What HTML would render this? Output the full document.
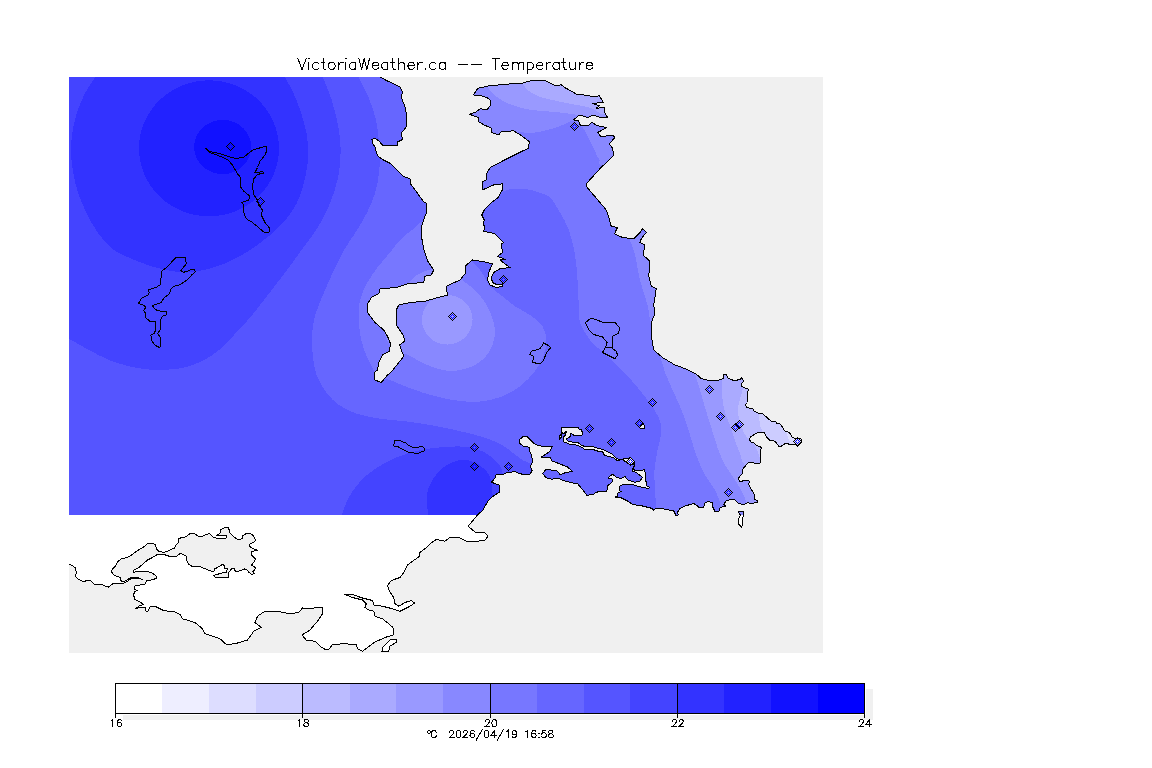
<!DOCTYPE html>
<html><head><meta charset="utf-8"><title>VictoriaWeather.ca -- Temperature</title>
<style>html,body{margin:0;padding:0;background:#fff}body{width:1152px;height:768px;overflow:hidden}svg{display:block}text{font-family:"Liberation Sans",sans-serif}</style></head><body>
<svg width="1152" height="768" viewBox="0 0 1152 768">
<rect width="1152" height="768" fill="#fff"/>
<g shape-rendering="crispEdges">
<rect x="69" y="77" width="754" height="576" fill="#f0f0f0"/>
<clipPath id="box"><rect x="69" y="77" width="754" height="438"/></clipPath>
<g clip-path="url(#box)">
<rect x="69" y="77" width="754" height="438" fill="#6666ff"/>
<path fill="#5555ff" d="M358.3 77C359.97 80.28 365.35 89.53 368.3 96.7C371.25 103.87 374.17 111.67 376 120C377.83 128.33 378.75 138.37 379.3 146.7C379.85 155.03 380.02 162.23 379.3 170C378.58 177.77 377.1 186.08 375 193.3C372.9 200.52 370.03 206.63 366.7 213.3C363.37 219.97 358.78 227.18 355 233.3C351.22 239.42 347.5 243.88 344 250C340.5 256.12 337.33 262.92 334 270C330.67 277.08 327.12 285 324 292.5C320.88 300 317.25 307.92 315.25 315C313.25 322.08 312.42 328.33 312 335C311.58 341.67 312 348.33 312.75 355C313.5 361.67 314.21 368.75 316.5 375C318.79 381.25 322.75 387.5 326.5 392.5C330.25 397.5 333.92 401.46 339 405C344.08 408.54 350.17 411.46 357 413.75C363.83 416.04 372 417.5 380 418.75C388 420 396.67 420.21 405 421.25C413.33 422.29 421.67 423.54 430 425C438.33 426.46 446.67 428.12 455 430C463.33 431.88 472.5 433.96 480 436.25C487.5 438.54 494.58 441.04 500 443.75C505.42 446.46 508.75 449.79 512.5 452.5C516.25 455.21 519.58 458.12 522.5 460C525.42 461.88 526.25 461.25 530 463.75C533.75 466.25 542.5 473.12 545 475L545 520L60 520L60 70L358 70Z"/>
<path fill="#4444ff" d="M322.7 77C324.2 80.83 329.1 91.72 331.7 100C334.3 108.28 336.8 118.37 338.3 126.7C339.8 135.03 340.7 141.67 340.7 150C340.7 158.33 340.08 167.82 338.3 176.7C336.52 185.58 333.33 194.97 330 203.3C326.67 211.63 323.05 218.92 318.3 226.7C313.55 234.48 306.38 243.2 301.5 250C296.62 256.8 293.17 261.88 289 267.5C284.83 273.12 280.67 278.33 276.5 283.75C272.33 289.17 268.58 294.17 264 300C259.42 305.83 254 312.92 249 318.75C244 324.58 239 329.79 234 335C229 340.21 224 345.83 219 350C214 354.17 209.42 357.17 204 360C198.58 362.83 192.33 365.42 186.5 367C180.67 368.58 175.25 369.08 169 369.5C162.75 369.92 155.67 370.04 149 369.5C142.33 368.96 135.67 367.83 129 366.25C122.33 364.67 115.67 362.71 109 360C102.33 357.29 95.67 353.54 89 350C82.33 346.46 72.33 340.62 69 338.75L60 333L60 70L322.7 70Z"/>
<path fill="#4444ff" d="M341.7 515C343.08 511.72 345.83 501.92 350 495.3C354.17 488.68 359.48 481.4 366.7 475.3C373.92 469.2 384.42 462.87 393.3 458.7C402.18 454.53 411.55 452.25 420 450.3C428.45 448.35 436.08 447.55 444 447C451.92 446.45 460.67 446.08 467.5 447C474.33 447.92 480 449.92 485 452.5C490 455.08 494.58 459.17 497.5 462.5C500.42 465.83 501.58 467.92 502.5 472.5C503.42 477.08 502.92 487.08 503 490L498 520L341.7 520Z"/>
<path fill="#3333ff" d="M95 77.3C93.33 79.97 88.05 87.3 85 93.3C81.95 99.3 78.82 106.63 76.7 113.3C74.58 119.97 73.25 126.63 72.3 133.3C71.35 139.97 70.83 146.63 71 153.3C71.17 159.97 72.08 166.63 73.3 173.3C74.52 179.97 76.07 186.63 78.3 193.3C80.53 199.97 83.37 206.63 86.7 213.3C90.03 219.97 93.75 227.18 98.3 233.3C102.85 239.42 108.47 245.76 114 250C119.53 254.24 125.25 256.04 131.5 258.75C137.75 261.46 145.25 264.29 151.5 266.25C157.75 268.21 163.17 269.46 169 270.5C174.83 271.54 180.67 272.58 186.5 272.5C192.33 272.42 197.75 271.46 204 270C210.25 268.54 217.33 266.46 224 263.75C230.67 261.04 238 257.21 244 253.75C250 250.29 254 247.62 260 243C266 238.38 273.88 232.62 280 226C286.12 219.38 292.37 212.08 296.7 203.3C301.03 194.52 304.07 182.73 306 173.3C307.93 163.87 308.75 155.58 308.3 146.7C307.85 137.82 305.52 128.33 303.3 120C301.08 111.67 298.05 103.87 295 96.7C291.95 89.53 286.67 80.28 285 77L285 70L95 70Z"/>
<path fill="#3333ff" d="M428.3 515C428.03 511.72 425.87 501.35 426.7 495.3C427.53 489.25 430.42 483.42 433.3 478.7C436.18 473.98 439.55 470.12 444 467C448.45 463.88 454.83 460.75 460 460C465.17 459.25 470.42 460.42 475 462.5C479.58 464.58 484.79 469.17 487.5 472.5C490.21 475.83 490.33 477.92 491.25 482.5C492.17 487.08 492.71 497.08 493 500L490 520L428.3 520Z"/>
<ellipse fill="#2222ff" cx="209" cy="148.3" rx="70" ry="68"/>
<ellipse fill="#1111ff" cx="222.7" cy="147" rx="28.6" ry="27.1"/>
<path fill="#7777ff" d="M425 221C420.33 220.17 416.17 226.83 412 230C407.83 233.17 403.67 236.25 400 240C396.33 243.75 393.75 247.92 390 252.5C386.25 257.08 381.25 262.5 377.5 267.5C373.75 272.5 370.42 277.08 367.5 282.5C364.58 287.92 361.46 293.75 360 300C358.54 306.25 358.54 313.33 358.75 320C358.96 326.67 360 334.17 361.25 340C362.5 345.83 364.38 350.42 366.25 355C368.12 359.58 370.71 364 372.5 367.5C374.29 371 374.08 373.92 377 376C379.92 378.08 385.33 378.29 390 380C394.67 381.71 399.58 384.17 405 386.25C410.42 388.33 416.25 390.54 422.5 392.5C428.75 394.46 435.83 396.54 442.5 398C449.17 399.46 455.83 400.71 462.5 401.25C469.17 401.79 475.83 402.08 482.5 401.25C489.17 400.42 496.25 398.75 502.5 396.25C508.75 393.75 514.58 390.42 520 386.25C525.42 382.08 531.04 376.46 535 371.25C538.96 366.04 541.88 360.21 543.75 355C545.62 349.79 546.46 344.79 546.25 340C546.04 335.21 545.21 330.42 542.5 326.25C539.79 322.08 534.58 318.33 530 315C525.42 311.67 519.58 309.38 515 306.25C510.42 303.12 506.67 299.58 502.5 296.25C498.33 292.92 493.75 290.62 490 286.25C486.25 281.88 485 276.04 480 270C475 263.96 466.67 255.83 460 250C453.33 244.17 445.83 239.83 440 235C434.17 230.17 429.67 221.83 425 221Z"/>
<path fill="#7777ff" d="M450 195C455 195 472.05 195.28 480 195C487.95 194.72 492.53 194.27 497.7 193.3C502.87 192.33 506.28 189.88 511 189.2C515.72 188.52 521.28 188.65 526 189.2C530.72 189.75 535.3 191.12 539.3 192.5C543.3 193.88 546.55 194.17 550 197.5C553.45 200.83 556.88 207.08 560 212.5C563.12 217.92 566.25 222.92 568.75 230C571.25 237.08 573.54 246.67 575 255C576.46 263.33 576.88 271.67 577.5 280C578.12 288.33 578.33 297.92 578.75 305C579.17 312.08 578.12 316.67 580 322.5C581.88 328.33 585.5 334.42 590 340C594.5 345.58 600.33 349.54 607 356C613.67 362.46 623.25 371.42 630 378.75C636.75 386.08 642.71 393.54 647.5 400C652.29 406.46 656.46 412.08 658.75 417.5C661.04 422.92 661.46 427.08 661.25 432.5C661.04 437.92 658.62 443.75 657.5 450C656.38 456.25 654.92 463.33 654.5 470C654.08 476.67 654.71 483.75 655 490C655.29 496.25 656.04 504.58 656.25 507.5L657 520L830 520L830 70L450 70Z"/>
<path fill="#8888ff" d="M405.5 353.75C409 354.88 411.33 356.88 415 358.75C418.67 360.62 422.92 363.12 427.5 365C432.08 366.88 437.5 369.08 442.5 370C447.5 370.92 452.5 371.12 457.5 370.5C462.5 369.88 467.92 368.42 472.5 366.25C477.08 364.08 481.67 361.04 485 357.5C488.33 353.96 490.83 349.58 492.5 345C494.17 340.42 495.21 335 495 330C494.79 325 492.92 319.58 491.25 315C489.58 310.42 487.71 306.67 485 302.5C482.29 298.33 478.54 293.54 475 290C471.46 286.46 467.58 284.58 463.75 281.25C459.92 277.92 455.62 272.38 452 270C448.38 267.62 445.04 267.21 442 267C438.96 266.79 436.58 268.04 433.75 268.75C430.92 269.46 428.12 270 425 271.25C421.88 272.5 417.92 274.17 415 276.25C412.08 278.33 410 281.62 407.5 283.75C405 285.88 403.58 286.29 400 289C396.42 291.71 388.67 293.17 386 300C383.33 306.83 382.67 321.33 384 330C385.33 338.67 390.42 348.04 394 352C397.58 355.96 402 352.62 405.5 353.75Z"/>
<path fill="#8888ff" d="M460 120C467.5 123.33 495.38 137.92 505 140C514.62 142.08 513.37 133.67 517.7 132.5C522.03 131.33 526 133.42 531 133C536 132.58 542.42 131.33 547.7 130C552.98 128.67 558.53 126.53 562.7 125C566.87 123.47 570.48 120.97 572.7 120.8C574.92 120.63 574.33 122.88 576 124C577.67 125.12 580.75 125.38 582.7 127.5C584.65 129.62 585.77 132.95 587.7 136.7C589.63 140.45 592.37 146.12 594.3 150C596.23 153.88 597.9 157.5 599.3 160C600.7 162.5 595.92 164.17 602.7 165C609.48 165.83 633.78 165 640 165L640 70L460 70Z"/>
<path fill="#8888ff" d="M628 232C628.33 233.33 628.83 236.17 630 240C631.17 243.83 633.33 248.33 635 255C636.67 261.67 637.92 271.67 640 280C642.08 288.33 645.83 298.33 647.5 305C649.17 311.67 648.92 314.17 650 320C651.08 325.83 652.33 334.17 654 340C655.67 345.83 658.17 349.58 660 355C661.83 360.42 662.71 366.25 665 372.5C667.29 378.75 670.83 385.83 673.75 392.5C676.67 399.17 679.79 405.42 682.5 412.5C685.21 419.58 687.71 427.92 690 435C692.29 442.08 693.75 448.33 696.25 455C698.75 461.67 701.88 469.17 705 475C708.12 480.83 712.5 485.42 715 490C717.5 494.58 719.17 500.42 720 502.5L722 520L830 520L830 232Z"/>
<ellipse fill="#9999ff" cx="447.25" cy="319.75" rx="25.3" ry="24.8"/>
<path fill="#9999ff" d="M482 80C483.08 81.38 486.45 85.8 488.5 88.3C490.55 90.8 491.38 92.63 494.3 95C497.22 97.37 501.27 100.28 506 102.5C510.73 104.72 517.15 106.92 522.7 108.3C528.25 109.68 533.75 110.18 539.3 110.8C544.85 111.42 550.43 111.43 556 112C561.57 112.57 568.82 113.7 572.7 114.2C576.58 114.7 576.42 114.7 579.3 115C582.18 115.3 585.38 115.5 590 116C594.62 116.5 598.67 117.67 607 118C615.33 118.33 634.5 118 640 118L640 70L482 70Z"/>
<path fill="#9999ff" d="M693 370C693.33 370.83 693.83 371.67 695 375C696.17 378.33 698.33 384.58 700 390C701.67 395.42 703.12 401.25 705 407.5C706.88 413.75 709.17 420.83 711.25 427.5C713.33 434.17 715.21 441.25 717.5 447.5C719.79 453.75 722.08 459.58 725 465C727.92 470.42 731.88 475 735 480C738.12 485 741.88 491.25 743.75 495C745.62 498.75 745.83 501.25 746.25 502.5L748 520L830 520L830 370Z"/>
<path fill="#aaaaff" d="M522.7 83.7C523.53 84.75 524.93 87.83 527.7 90C530.47 92.17 534.58 94.9 539.3 96.7C544.02 98.5 550.43 99.55 556 100.8C561.57 102.05 567.15 103.08 572.7 104.2C578.25 105.32 585.13 106.25 589.3 107.5C593.47 108.75 595.2 110.58 597.7 111.7C600.2 112.82 597.25 113.48 604.3 114.2C611.35 114.92 634.05 115.7 640 116L640 70L520 70Z"/>
<path fill="#aaaaff" d="M721 370C721.15 371.62 721.75 376.25 721.9 379.75C722.05 383.25 721.72 387.04 721.9 391C722.08 394.96 722.27 399.33 723 403.5C723.73 407.67 724.88 411.83 726.25 416C727.62 420.17 729.79 424.33 731.25 428.5C732.71 432.67 733.54 436.83 735 441C736.46 445.17 738.75 450 740 453.5C741.25 457 741.17 459.58 742.5 462C743.83 464.42 745.92 465.83 748 468C750.08 470.17 752.17 471.33 755 475C757.83 478.67 763.33 487.5 765 490L830 490L830 370Z"/>
<path fill="#bbbbff" d="M743 380C742.92 381.62 742.79 387.29 742.5 389.75C742.21 392.21 741.88 392.46 741.25 394.75C740.62 397.04 739.27 400.38 738.75 403.5C738.23 406.62 737.89 410.38 738.1 413.5C738.31 416.62 739.06 419.12 740 422.25C740.94 425.38 742.29 429.33 743.75 432.25C745.21 435.17 746.88 437.46 748.75 439.75C750.62 442.04 753.12 442.96 755 446C756.88 449.04 758.83 454 760 458C761.17 462 761.33 466.33 762 470C762.67 473.67 763.67 478.33 764 480L830 480L830 380Z"/>
<path fill="#ccccff" d="M758 405C758.12 406.17 758.52 409.4 758.75 412C758.98 414.6 759.14 418.23 759.4 420.6C759.66 422.98 759.88 424.68 760.3 426.25C760.72 427.82 761.45 428.38 761.9 430C762.35 431.62 762.65 432.33 763 436C763.35 439.67 763.83 449.33 764 452L830 452L830 405Z"/>
<path fill="#ddddff" d="M786 425C786.15 426.33 786.75 431.33 786.9 433C787.05 434.67 786.38 433.42 786.9 435C787.42 436.58 789.32 439.67 790 442.5C790.68 445.33 790.83 450.42 791 452L830 452L830 425Z"/>
</g>
<rect x="69" y="515" width="754" height="138" fill="#fff"/>
<polygon fill="#f0f0f0" points="69,653 69,564 73.1,566.25 75.6,568.1 76.25,572.5 75.6,576.25 77.5,578.75 83.75,581.9 86.9,580.25 90.6,580.6 93.75,583.75 96.9,585 101.25,584.4 105,586 108.75,587.1 111.25,585 113.1,583.5 123.75,583.1 127.5,581.25 131.9,578.1 137.5,578.1 142.5,579.4 137.5,577.6 131.9,577.1 127.5,579.6 124.4,581.3 121.25,581.25 120,577.5 113.75,575 111.6,571.9 112.5,568.75 115.6,566.25 117.5,561.9 121.25,559 127.5,557.25 132.5,554.4 137.5,550.6 143.75,546.9 147.5,543.75 152.5,543.1 155.6,545 156.25,548.75 158.75,551.25 163.75,552.5 168.75,550.6 174.4,548.1 176,545.2 178.5,542.7 178.5,538.5 185.6,536.8 190.2,533.5 194.3,533.3 197.7,536 202.7,536 209.3,533.5 213.5,537.7 216.8,538.1 226,538.1 226.8,535.6 217.7,536 216.4,535.6 220.6,532.7 221,529.3 226,527.25 228.5,527.25 229.75,532.7 232.7,536 237.25,539.3 240.6,539.2 242.25,538.1 242.7,535.6 246.4,533.5 250.6,533.5 253.5,536 255.6,539.75 253.9,542.5 250.2,543.5 249.3,546 251,547.7 257.7,550.3 251.8,551.4 251,554.3 255.6,558.9 254.3,561.8 251.4,565.2 255.6,567.7 254.3,570.6 252.7,571.4 254.3,573.5 251.8,574.3 249.3,572.7 246.8,569.75 244.75,568.9 241,570.6 236.8,571.4 235.2,571 234.3,568.5 231.8,568.5 228.5,572.7 228.5,577.5 215.2,577.5 213.5,575.6 220.2,573.5 226.8,572 227.25,568.5 224.75,568.1 223.9,565.2 222.25,564.3 220.2,566 214.75,568.9 213.9,571.2 211.4,571.2 200.2,566.8 191.8,566.2 188.5,563.9 186.8,561 186.4,556.4 183.9,554.75 180.2,553.3 176.9,556.25 170,556.5 163.75,554.4 157.5,554.4 152.5,557.5 147.5,560 142.5,564.4 138.1,568.1 133.75,570 133.75,572.5 137.5,571.25 146.25,571.25 152.5,573.1 156.25,576.25 156.25,578.5 151.25,580 146.25,581 145,584.4 140,585 135,585.6 134.75,589.4 137.5,590.6 134.75,591.25 133.5,595 135,599.4 140,601.9 143.5,604.4 138.75,606.25 135.6,608.5 140,607.5 145,607.5 146,611.25 148.1,611.25 150,606.9 155,606.25 158.75,608.1 163.75,610.6 168.75,611.25 175,611.9 180,614.4 182.5,618.75 195,622.5 202.5,628.75 205,633.75 220,638.75 226.25,644.5 235,643.75 247.5,640 253.75,631.25 261.25,627.5 255,622.5 257.5,616.25 263.75,612 277.5,611.25 290,613.75 298.75,612.5 302.5,608 310,608.75 316.25,607.5 322,607 322.5,613.75 317.5,621.25 310,630 302,635 306.25,640 315,641.25 320,646.25 326.25,650 329.5,648.75 332.5,644.5 343.75,643.75 356.25,644.5 357.5,648.75 362.5,651.25 367.5,647.5 375,642 385,637.5 393,635 393,627.5 388.75,623.75 382.5,618.75 375,616.25 373.75,611.25 368.75,610 365,607.5 366.25,603.75 362.5,600 352.5,597.5 345,594.5 353.75,595 362.5,598 372.5,600.5 373.75,605 382.5,606.25 392.5,608.75 400,611.25 410,606.25 414.5,603 411.25,600.5 405,602.5 398.75,606.25 395,603.75 393.75,597.5 389.5,591.25 387.5,585.5 391.25,580.5 400,577.5 403.75,572.5 407.5,565 419.5,556.25 420,552.5 425,548.75 431.25,543 436.25,539.5 445,541.25 450,537.5 460,538 466.25,541.25 475,541.75 485,540 488,536.25 485,533 475,532 468.25,526.25 477.5,515 482.75,510.25 487.75,501.5 492.75,496.5 499.6,492.1 499.6,485.25 495.25,483.75 491.5,482.1 495.25,477.75 495.9,475 504,474 506.5,472.5 515.25,471.75 519,473.4 524,474.6 530.25,474 532.1,470.25 530.25,466.5 532.75,461.5 531.5,455.25 529.6,450.9 529,447.1 524,446.5 519.6,443.4 519.6,439.6 522.75,436.9 527.1,436.5 530.9,440.25 534,443.4 539,445.9 552.1,446.5 550.25,450.9 545.25,454.6 541.5,457.1 550.25,457.5 552.1,460.9 561.5,464.6 567.75,467.1 572.1,471.25 565.25,472.75 560.25,474.6 557.1,470.9 545.9,469.25 542.75,473.4 545.9,477.75 551.5,479.25 557.1,478 562.75,480.25 571.5,482.75 577.75,484 582.1,489 587.1,495.5 594,494 596.5,492.1 602.75,491.5 606.9,491 607.5,486 611.9,482.25 612.5,479.1 608.1,477.9 612.5,474.1 616.25,477.25 621.25,478.5 625,476.6 627.5,479.75 635,482.25 640,481 642.5,477.25 636.9,472.9 632.5,471 632.5,468.5 634.4,466 633.75,463.5 630.6,464.75 626.9,462.9 623.1,459.75 617,460.3 614.5,458.75 613.25,457.5 610.1,456.9 604.5,455.3 602.6,451.9 598.25,451.25 592.6,449.4 584.5,449.1 582,447.5 576.4,445 569.5,444.1 566.4,442.8 563.6,441.9 563.25,438.75 563.9,436.6 565.4,435.3 565.1,433.4 566.7,431.9 566.1,431.25 564.5,433.1 562.6,433.4 561.4,431.25 561.4,428.1 562.3,427.2 577.6,427.2 579.5,429.4 581.1,429.7 582.6,432.5 582.6,434.7 581.4,435.3 573.9,435.3 570.75,433.4 570.1,434.4 570.75,435.6 568.6,437.8 566.7,438.75 566.7,440 568.9,441.9 577.6,442.2 582,445.6 585.75,446.6 592.6,446.6 597,448.1 603.25,449.4 606.4,451.25 612,453.75 614.5,456.25 615.1,457.5 618.25,459.1 622.5,459.1 627.5,458.5 630.6,457.25 634.4,461.6 635,465.4 633.1,469.1 636.25,471 642.5,470.4 644.4,469.5 645.6,474.75 646.25,485.4 649.75,487.5 648.75,488.5 642.5,487.5 635,485.4 632.5,484.5 622.5,484.5 620,486 619.4,490.4 621.25,491.6 618.1,492.9 617.5,496 615,497.25 621.25,497.9 627.5,501 633.1,504.75 640,505.4 652.5,508.5 653.1,510.4 655.6,508.5 665,509.1 673.75,511 676.25,516 678.1,514.75 677.5,512.25 680,508.5 685,506 693.75,503.5 696.9,505.4 699.4,507.9 703.75,507.25 705,502.9 708.1,501.25 713.1,502.9 712.5,506.6 715,511.6 718.75,511.6 720,507.9 723.1,506.6 726.25,507 723.75,504.1 726.25,501 730,499.5 735,499.75 738.75,503.5 743.75,504.75 747.5,502.9 753.1,503.25 757.5,502.25 758.1,501 754.4,499.1 754.4,494.75 751.25,489.1 748.75,484.75 749.4,481 745,480.4 740,481.6 738.1,479.1 740,476 742.5,473.5 743.1,468.5 748.1,462.9 752.5,462.25 756.9,464.1 760,463.5 760.6,456 760,450 761.6,448 760,446.25 756.9,445.9 754.4,443.1 750.9,441.9 749.4,439.4 750.6,436.9 757.5,432.5 764.4,432.5 766.25,436.9 769.4,440 775,441.25 778.75,446.25 781.25,446.25 785.6,443.1 788.75,444.1 795.9,444.4 797.5,446.6 801.6,442.5 801.6,439.4 800.3,438.1 794.4,438.1 791.9,436.9 789.4,432.5 784.4,430.9 783.75,428.75 779.7,423.4 776.9,423.4 775.6,421.6 771.25,421.25 766.25,416.9 762.2,413.4 758.1,413.1 754.4,411.25 752.5,408.4 746.9,407.8 745.3,404.4 747.5,402.5 747.8,400 747.5,392.25 748.5,389.1 745,387.9 741.9,386.6 741.25,383.5 743.75,381.6 741.9,377.5 740,379.75 733.75,380.4 728.1,378.5 726.25,374.1 723.75,374.1 723.1,378.5 717.5,380.75 710,380.75 701.25,378.5 696.25,374.1 687.5,369.75 680,366.6 675,365 662.5,357.5 653.75,350 651.25,335 651.25,322.5 655,313.75 653.75,305 656.25,288.75 651.25,286.25 648.75,276.25 650,261.25 643,255 645,245 640,242.5 641.25,238.75 646.25,232.5 642.5,228.75 640,232.5 633.75,238.75 622.5,237.5 614.5,233.75 617.5,227.5 611.25,226.25 608.75,217.5 606.25,210 600,202.5 592.5,193.75 586.25,186.25 586.8,183.3 592.7,176.7 601,167.5 609.3,160 613.5,155.8 612.7,148.3 609.3,144.2 614.7,137.5 612.7,135 601,136.7 597.7,132.5 606.8,127.5 597.7,125.8 591.8,122.5 589.3,125 580.2,125 578.5,120.8 573.5,120 579.3,115 587.7,117.5 592.7,115 601,117.5 607.7,117.5 605.2,114.2 604.3,107.5 596,108.3 599.3,105.8 592.7,103.3 603.5,102.5 599.3,95.8 594.3,96.7 584.3,95 576,94.2 572.7,91.7 566,88.3 561,84.7 556,85.8 549.3,82.5 544.3,80.3 532.7,80.3 522.7,83 506,84.2 489.3,85.8 477.7,88.3 473.5,95 481,95.8 486.8,97.5 491,100.8 490.2,105.8 486.8,110 480.2,108.7 475.2,112.5 469.3,114.2 478.5,117.5 478.5,121.7 484.3,125 491.8,128.3 491.8,132.5 498.5,135 501,132 513.5,130.8 519.3,134.2 529.3,141.7 528.5,148.3 521,151.7 506,159.2 490.2,167.5 486.8,173.3 486.3,180 482.7,181.7 482.3,190 493.5,185 502.3,183.8 502.7,189.2 497.7,198 493,201.25 484.25,210 481.75,215 484.25,220 483,223.75 485,227.5 483.5,231.25 495,233.75 503.75,242.5 501.25,243.75 502.5,252.5 497.5,256.25 505.5,259.5 500,260 510,267.5 500,268.75 493.75,272.5 491.25,277.5 492.5,282.5 497.5,285 503,283.75 502.5,286.25 496.25,287.5 490,285 487.5,280 488.75,272.5 492.5,263.75 485,262 472.5,260 465,266.25 465,273.75 460,280 446.25,286.25 447.5,295 436.25,298 425,301.25 410,302.5 398.75,305 396.25,310 396.25,325 403.75,336.25 404.5,341.25 399.5,345 403.75,356.25 398.75,362.5 391.25,372 387.5,375 381.25,382.5 375,380 374.5,372.5 377.5,370 378.75,362.5 382.5,355 389.5,351.25 390.5,343.75 387.5,336.25 383.75,330 375,322.5 367.5,312.5 367,305 371.25,297.5 378.75,293.75 380,288.75 396.25,287.5 407.5,283.75 423.75,282.5 425,276.25 431.25,275 433.75,270 432.5,268.25 427.5,260.75 423.75,249.5 422,239.5 421.25,227 423.75,219.5 426.25,213.25 426.25,203.25 423.75,202 417.5,193.25 410,183.25 410,179 402.5,175.75 396.25,169.5 390,163.25 382.5,159.5 377.5,155.75 375,147 372.5,143.25 372,139.5 375,138.25 378.75,140.75 382.5,145 397.5,145 397.5,142 402.5,139.5 401.25,133.25 406.25,127 407,117 405,107 401.25,97 402.5,92 400,87 395,84.5 386.5,80.5 380,77 823,77 823,653"/>
<polygon fill="#fff" stroke="#000" stroke-width="1" points="396.25,639.25 390,640 382.5,647.5 382,651.25 388.75,652 389.5,646.25 396.25,642.5"/>
<polygon fill="#fff" points="738,511.1 743.5,511.3 743.5,516.4 742.75,517.2 742.75,524.6 741.6,527 738.25,523.8 738.25,519.1 740.4,515.2"/>
<polygon fill="#8888ff" clip-path="url(#box)" points="738,511.1 743.5,511.3 743.5,516.4 742.75,517.2 742.75,524.6 741.6,527 738.25,523.8 738.25,519.1 740.4,515.2"/>
<polygon fill="none" stroke="#000" stroke-width="1" points="738,511.1 743.5,511.3 743.5,516.4 742.75,517.2 742.75,524.6 741.6,527 738.25,523.8 738.25,519.1 740.4,515.2"/>
<polyline fill="none" stroke="#000" stroke-width="1" stroke-linejoin="round" points="69,564 73.1,566.25 75.6,568.1 76.25,572.5 75.6,576.25 77.5,578.75 83.75,581.9 86.9,580.25 90.6,580.6 93.75,583.75 96.9,585 101.25,584.4 105,586 108.75,587.1 111.25,585 113.1,583.5 123.75,583.1 127.5,581.25 131.9,578.1 137.5,578.1 142.5,579.4 137.5,577.6 131.9,577.1 127.5,579.6 124.4,581.3 121.25,581.25 120,577.5 113.75,575 111.6,571.9 112.5,568.75 115.6,566.25 117.5,561.9 121.25,559 127.5,557.25 132.5,554.4 137.5,550.6 143.75,546.9 147.5,543.75 152.5,543.1 155.6,545 156.25,548.75 158.75,551.25 163.75,552.5 168.75,550.6 174.4,548.1 176,545.2 178.5,542.7 178.5,538.5 185.6,536.8 190.2,533.5 194.3,533.3 197.7,536 202.7,536 209.3,533.5 213.5,537.7 216.8,538.1 226,538.1 226.8,535.6 217.7,536 216.4,535.6 220.6,532.7 221,529.3 226,527.25 228.5,527.25 229.75,532.7 232.7,536 237.25,539.3 240.6,539.2 242.25,538.1 242.7,535.6 246.4,533.5 250.6,533.5 253.5,536 255.6,539.75 253.9,542.5 250.2,543.5 249.3,546 251,547.7 257.7,550.3 251.8,551.4 251,554.3 255.6,558.9 254.3,561.8 251.4,565.2 255.6,567.7 254.3,570.6 252.7,571.4 254.3,573.5 251.8,574.3 249.3,572.7 246.8,569.75 244.75,568.9 241,570.6 236.8,571.4 235.2,571 234.3,568.5 231.8,568.5 228.5,572.7 228.5,577.5 215.2,577.5 213.5,575.6 220.2,573.5 226.8,572 227.25,568.5 224.75,568.1 223.9,565.2 222.25,564.3 220.2,566 214.75,568.9 213.9,571.2 211.4,571.2 200.2,566.8 191.8,566.2 188.5,563.9 186.8,561 186.4,556.4 183.9,554.75 180.2,553.3 176.9,556.25 170,556.5 163.75,554.4 157.5,554.4 152.5,557.5 147.5,560 142.5,564.4 138.1,568.1 133.75,570 133.75,572.5 137.5,571.25 146.25,571.25 152.5,573.1 156.25,576.25 156.25,578.5 151.25,580 146.25,581 145,584.4 140,585 135,585.6 134.75,589.4 137.5,590.6 134.75,591.25 133.5,595 135,599.4 140,601.9 143.5,604.4 138.75,606.25 135.6,608.5 140,607.5 145,607.5 146,611.25 148.1,611.25 150,606.9 155,606.25 158.75,608.1 163.75,610.6 168.75,611.25 175,611.9 180,614.4 182.5,618.75 195,622.5 202.5,628.75 205,633.75 220,638.75 226.25,644.5 235,643.75 247.5,640 253.75,631.25 261.25,627.5 255,622.5 257.5,616.25 263.75,612 277.5,611.25 290,613.75 298.75,612.5 302.5,608 310,608.75 316.25,607.5 322,607 322.5,613.75 317.5,621.25 310,630 302,635 306.25,640 315,641.25 320,646.25 326.25,650 329.5,648.75 332.5,644.5 343.75,643.75 356.25,644.5 357.5,648.75 362.5,651.25 367.5,647.5 375,642 385,637.5 393,635 393,627.5 388.75,623.75 382.5,618.75 375,616.25 373.75,611.25 368.75,610 365,607.5 366.25,603.75 362.5,600 352.5,597.5 345,594.5 353.75,595 362.5,598 372.5,600.5 373.75,605 382.5,606.25 392.5,608.75 400,611.25 410,606.25 414.5,603 411.25,600.5 405,602.5 398.75,606.25 395,603.75 393.75,597.5 389.5,591.25 387.5,585.5 391.25,580.5 400,577.5 403.75,572.5 407.5,565 419.5,556.25 420,552.5 425,548.75 431.25,543 436.25,539.5 445,541.25 450,537.5 460,538 466.25,541.25 475,541.75 485,540 488,536.25 485,533 475,532 468.25,526.25 477.5,515 482.75,510.25 487.75,501.5 492.75,496.5 499.6,492.1 499.6,485.25 495.25,483.75 491.5,482.1 495.25,477.75 495.9,475 504,474 506.5,472.5 515.25,471.75 519,473.4 524,474.6 530.25,474 532.1,470.25 530.25,466.5 532.75,461.5 531.5,455.25 529.6,450.9 529,447.1 524,446.5 519.6,443.4 519.6,439.6 522.75,436.9 527.1,436.5 530.9,440.25 534,443.4 539,445.9 552.1,446.5 550.25,450.9 545.25,454.6 541.5,457.1 550.25,457.5 552.1,460.9 561.5,464.6 567.75,467.1 572.1,471.25 565.25,472.75 560.25,474.6 557.1,470.9 545.9,469.25 542.75,473.4 545.9,477.75 551.5,479.25 557.1,478 562.75,480.25 571.5,482.75 577.75,484 582.1,489 587.1,495.5 594,494 596.5,492.1 602.75,491.5 606.9,491 607.5,486 611.9,482.25 612.5,479.1 608.1,477.9 612.5,474.1 616.25,477.25 621.25,478.5 625,476.6 627.5,479.75 635,482.25 640,481 642.5,477.25 636.9,472.9 632.5,471 632.5,468.5 634.4,466 633.75,463.5 630.6,464.75 626.9,462.9 623.1,459.75 617,460.3 614.5,458.75 613.25,457.5 610.1,456.9 604.5,455.3 602.6,451.9 598.25,451.25 592.6,449.4 584.5,449.1 582,447.5 576.4,445 569.5,444.1 566.4,442.8 563.6,441.9 563.25,438.75 563.9,436.6 565.4,435.3 565.1,433.4 566.7,431.9 566.1,431.25 564.5,433.1 562.6,433.4 561.4,431.25 561.4,428.1 562.3,427.2 577.6,427.2 579.5,429.4 581.1,429.7 582.6,432.5 582.6,434.7 581.4,435.3 573.9,435.3 570.75,433.4 570.1,434.4 570.75,435.6 568.6,437.8 566.7,438.75 566.7,440 568.9,441.9 577.6,442.2 582,445.6 585.75,446.6 592.6,446.6 597,448.1 603.25,449.4 606.4,451.25 612,453.75 614.5,456.25 615.1,457.5 618.25,459.1 622.5,459.1 627.5,458.5 630.6,457.25 634.4,461.6 635,465.4 633.1,469.1 636.25,471 642.5,470.4 644.4,469.5 645.6,474.75 646.25,485.4 649.75,487.5 648.75,488.5 642.5,487.5 635,485.4 632.5,484.5 622.5,484.5 620,486 619.4,490.4 621.25,491.6 618.1,492.9 617.5,496 615,497.25 621.25,497.9 627.5,501 633.1,504.75 640,505.4 652.5,508.5 653.1,510.4 655.6,508.5 665,509.1 673.75,511 676.25,516 678.1,514.75 677.5,512.25 680,508.5 685,506 693.75,503.5 696.9,505.4 699.4,507.9 703.75,507.25 705,502.9 708.1,501.25 713.1,502.9 712.5,506.6 715,511.6 718.75,511.6 720,507.9 723.1,506.6 726.25,507 723.75,504.1 726.25,501 730,499.5 735,499.75 738.75,503.5 743.75,504.75 747.5,502.9 753.1,503.25 757.5,502.25 758.1,501 754.4,499.1 754.4,494.75 751.25,489.1 748.75,484.75 749.4,481 745,480.4 740,481.6 738.1,479.1 740,476 742.5,473.5 743.1,468.5 748.1,462.9 752.5,462.25 756.9,464.1 760,463.5 760.6,456 760,450 761.6,448 760,446.25 756.9,445.9 754.4,443.1 750.9,441.9 749.4,439.4 750.6,436.9 757.5,432.5 764.4,432.5 766.25,436.9 769.4,440 775,441.25 778.75,446.25 781.25,446.25 785.6,443.1 788.75,444.1 795.9,444.4 797.5,446.6 801.6,442.5 801.6,439.4 800.3,438.1 794.4,438.1 791.9,436.9 789.4,432.5 784.4,430.9 783.75,428.75 779.7,423.4 776.9,423.4 775.6,421.6 771.25,421.25 766.25,416.9 762.2,413.4 758.1,413.1 754.4,411.25 752.5,408.4 746.9,407.8 745.3,404.4 747.5,402.5 747.8,400 747.5,392.25 748.5,389.1 745,387.9 741.9,386.6 741.25,383.5 743.75,381.6 741.9,377.5 740,379.75 733.75,380.4 728.1,378.5 726.25,374.1 723.75,374.1 723.1,378.5 717.5,380.75 710,380.75 701.25,378.5 696.25,374.1 687.5,369.75 680,366.6 675,365 662.5,357.5 653.75,350 651.25,335 651.25,322.5 655,313.75 653.75,305 656.25,288.75 651.25,286.25 648.75,276.25 650,261.25 643,255 645,245 640,242.5 641.25,238.75 646.25,232.5 642.5,228.75 640,232.5 633.75,238.75 622.5,237.5 614.5,233.75 617.5,227.5 611.25,226.25 608.75,217.5 606.25,210 600,202.5 592.5,193.75 586.25,186.25 586.8,183.3 592.7,176.7 601,167.5 609.3,160 613.5,155.8 612.7,148.3 609.3,144.2 614.7,137.5 612.7,135 601,136.7 597.7,132.5 606.8,127.5 597.7,125.8 591.8,122.5 589.3,125 580.2,125 578.5,120.8 573.5,120 579.3,115 587.7,117.5 592.7,115 601,117.5 607.7,117.5 605.2,114.2 604.3,107.5 596,108.3 599.3,105.8 592.7,103.3 603.5,102.5 599.3,95.8 594.3,96.7 584.3,95 576,94.2 572.7,91.7 566,88.3 561,84.7 556,85.8 549.3,82.5 544.3,80.3 532.7,80.3 522.7,83 506,84.2 489.3,85.8 477.7,88.3 473.5,95 481,95.8 486.8,97.5 491,100.8 490.2,105.8 486.8,110 480.2,108.7 475.2,112.5 469.3,114.2 478.5,117.5 478.5,121.7 484.3,125 491.8,128.3 491.8,132.5 498.5,135 501,132 513.5,130.8 519.3,134.2 529.3,141.7 528.5,148.3 521,151.7 506,159.2 490.2,167.5 486.8,173.3 486.3,180 482.7,181.7 482.3,190 493.5,185 502.3,183.8 502.7,189.2 497.7,198 493,201.25 484.25,210 481.75,215 484.25,220 483,223.75 485,227.5 483.5,231.25 495,233.75 503.75,242.5 501.25,243.75 502.5,252.5 497.5,256.25 505.5,259.5 500,260 510,267.5 500,268.75 493.75,272.5 491.25,277.5 492.5,282.5 497.5,285 503,283.75 502.5,286.25 496.25,287.5 490,285 487.5,280 488.75,272.5 492.5,263.75 485,262 472.5,260 465,266.25 465,273.75 460,280 446.25,286.25 447.5,295 436.25,298 425,301.25 410,302.5 398.75,305 396.25,310 396.25,325 403.75,336.25 404.5,341.25 399.5,345 403.75,356.25 398.75,362.5 391.25,372 387.5,375 381.25,382.5 375,380 374.5,372.5 377.5,370 378.75,362.5 382.5,355 389.5,351.25 390.5,343.75 387.5,336.25 383.75,330 375,322.5 367.5,312.5 367,305 371.25,297.5 378.75,293.75 380,288.75 396.25,287.5 407.5,283.75 423.75,282.5 425,276.25 431.25,275 433.75,270 432.5,268.25 427.5,260.75 423.75,249.5 422,239.5 421.25,227 423.75,219.5 426.25,213.25 426.25,203.25 423.75,202 417.5,193.25 410,183.25 410,179 402.5,175.75 396.25,169.5 390,163.25 382.5,159.5 377.5,155.75 375,147 372.5,143.25 372,139.5 375,138.25 378.75,140.75 382.5,145 397.5,145 397.5,142 402.5,139.5 401.25,133.25 406.25,127 407,117 405,107 401.25,97 402.5,92 400,87 395,84.5 386.5,80.5 380,77"/>
<polygon fill="#f0f0f0" stroke="#000" stroke-width="1" points="561.4,433.4 559.5,436.25 559.2,439.4 560.75,438.1 562,435"/>
<polygon fill="#f0f0f0" stroke="#000" stroke-width="1" points="642.5,423.5 644.5,425.5 644.5,428.5 640.5,428.5 639.5,427.5"/>
<polygon fill="none" stroke="#000" stroke-width="1" points="205.5,148.25 208.75,151.25 220,153.75 230,157 236.25,158.75 243.75,157 251.25,151.25 253.75,149.5 266.25,146.25 267,150 265,155 260,161.25 257.5,167.5 255,172.5 262.5,171.75 263.75,173 257.5,174.5 253.75,178.75 252.5,186.25 253.75,195 257.5,200 258.75,205 262.5,210 261.25,215 265,222.5 270,228.75 268.75,232.5 265,233 260,228.75 252.5,222.5 246.25,218.75 243.75,212.5 243.75,205 241.25,202.5 248.75,200 250,196.25 243.75,191.25 240,186.25 240.5,177.5 237.5,173.75 232.5,165 227.5,159.5 220,156.25 210,152.5"/>
<polygon fill="none" stroke="#000" stroke-width="1" points="176.4,257.2 185.8,257.2 186.1,264.2 183.4,267.3 180.8,270.9 183.4,272.3 187.3,271.25 191.25,269.4 194.4,269.7 195.6,271.7 192,274.7 187.3,279.8 180.3,284.5 173.3,286.6 170.9,289.2 169.4,293.9 163.9,298.1 161.25,302.5 156.9,304.1 152.5,305.3 153.75,308 156.9,310.3 162.3,311.6 166.6,311.9 166.25,315 162.3,316.1 160.8,319.7 160.5,329.1 157.7,333.4 160,336.9 160.8,344.7 159.7,347.5 155.3,345.5 152.2,341.6 150.9,335.3 154.5,333 155.8,329.1 155.8,322 149.8,321.25 145.2,317.3 145.2,312.7 143.6,310.3 145.9,307.2 143.6,305.3 138.6,303.3 141.25,298.6 145.2,296.25 148.3,294.7 149.1,292.3 148.3,290 152.2,288.75 156.9,286.9 160.5,284.5 161.6,271.25 167,267.3 172.5,261.1"/>
<polygon fill="none" stroke="#000" stroke-width="1" points="591.25,318 585.5,322.5 588.75,330 593.75,334.5 602.5,337 607,342.5 605.5,347.5 602.5,352.5 615,358.75 617.5,355 616.25,351.25 612,348 612.5,336.25 618.75,333 619.5,327.5 615,322.5 603.75,322.5"/>
<polygon fill="none" stroke="#000" stroke-width="1" points="543.75,343 540,348.75 531.25,351.25 530,354.5 533.75,356.25 532.5,362.5 540,363.75 543.75,360 546.25,353 550.75,347.5 547.5,345"/>
<polygon fill="none" stroke="#000" stroke-width="1" points="395.25,440 399.6,440 401.5,441.6 405.25,442.5 408.4,445.3 412.1,447.2 418.4,447.2 419.9,446.25 422.1,446.6 424,447.8 424.9,450 423.4,451.6 420.9,451.9 418.7,453.4 414.6,453.6 413.4,452.5 408.4,452.2 404.6,450.3 400.9,448.4 397.4,446.4 394,446.25 393.25,445 394.3,443.4 394.3,441.25"/>
<polyline fill="none" stroke="#000" stroke-width="1" points="605.5,347.5 612,348"/>
<path fill="#000" d="M226 146h1v1h-1zM227 145h1v1h-1zM227 147h1v1h-1zM228 144h1v1h-1zM228 148h1v1h-1zM229 143h1v1h-1zM229 149h1v1h-1zM230 142h1v1h-1zM230 150h1v1h-1zM231 143h1v1h-1zM231 149h1v1h-1zM232 144h1v1h-1zM232 148h1v1h-1zM233 145h1v1h-1zM233 147h1v1h-1zM234 146h1v1h-1zM256 201h1v1h-1zM257 200h1v1h-1zM257 202h1v1h-1zM258 199h1v1h-1zM258 203h1v1h-1zM259 198h1v1h-1zM259 204h1v1h-1zM260 197h1v1h-1zM260 205h1v1h-1zM261 198h1v1h-1zM261 204h1v1h-1zM262 199h1v1h-1zM262 203h1v1h-1zM263 200h1v1h-1zM263 202h1v1h-1zM264 201h1v1h-1zM570 126h1v1h-1zM571 125h1v1h-1zM571 127h1v1h-1zM572 124h1v1h-1zM572 128h1v1h-1zM573 123h1v1h-1zM573 129h1v1h-1zM574 122h1v1h-1zM574 130h1v1h-1zM575 123h1v1h-1zM575 129h1v1h-1zM576 124h1v1h-1zM576 128h1v1h-1zM577 125h1v1h-1zM577 127h1v1h-1zM578 126h1v1h-1zM499 279h1v1h-1zM500 278h1v1h-1zM500 280h1v1h-1zM501 277h1v1h-1zM501 281h1v1h-1zM502 276h1v1h-1zM502 282h1v1h-1zM503 275h1v1h-1zM503 283h1v1h-1zM504 276h1v1h-1zM504 282h1v1h-1zM505 277h1v1h-1zM505 281h1v1h-1zM506 278h1v1h-1zM506 280h1v1h-1zM507 279h1v1h-1zM448 316h1v1h-1zM449 315h1v1h-1zM449 317h1v1h-1zM450 314h1v1h-1zM450 318h1v1h-1zM451 313h1v1h-1zM451 319h1v1h-1zM452 312h1v1h-1zM452 320h1v1h-1zM453 313h1v1h-1zM453 319h1v1h-1zM454 314h1v1h-1zM454 318h1v1h-1zM455 315h1v1h-1zM455 317h1v1h-1zM456 316h1v1h-1zM470 447h1v1h-1zM471 446h1v1h-1zM471 448h1v1h-1zM472 445h1v1h-1zM472 449h1v1h-1zM473 444h1v1h-1zM473 450h1v1h-1zM474 443h1v1h-1zM474 451h1v1h-1zM475 444h1v1h-1zM475 450h1v1h-1zM476 445h1v1h-1zM476 449h1v1h-1zM477 446h1v1h-1zM477 448h1v1h-1zM478 447h1v1h-1zM470 466h1v1h-1zM471 465h1v1h-1zM471 467h1v1h-1zM472 464h1v1h-1zM472 468h1v1h-1zM473 463h1v1h-1zM473 469h1v1h-1zM474 462h1v1h-1zM474 470h1v1h-1zM475 463h1v1h-1zM475 469h1v1h-1zM476 464h1v1h-1zM476 468h1v1h-1zM477 465h1v1h-1zM477 467h1v1h-1zM478 466h1v1h-1zM504 466h1v1h-1zM505 465h1v1h-1zM505 467h1v1h-1zM506 464h1v1h-1zM506 468h1v1h-1zM507 463h1v1h-1zM507 469h1v1h-1zM508 462h1v1h-1zM508 470h1v1h-1zM509 463h1v1h-1zM509 469h1v1h-1zM510 464h1v1h-1zM510 468h1v1h-1zM511 465h1v1h-1zM511 467h1v1h-1zM512 466h1v1h-1zM585 428h1v1h-1zM586 427h1v1h-1zM586 429h1v1h-1zM587 426h1v1h-1zM587 430h1v1h-1zM588 425h1v1h-1zM588 431h1v1h-1zM589 424h1v1h-1zM589 432h1v1h-1zM590 425h1v1h-1zM590 431h1v1h-1zM591 426h1v1h-1zM591 430h1v1h-1zM592 427h1v1h-1zM592 429h1v1h-1zM593 428h1v1h-1zM607 442h1v1h-1zM608 441h1v1h-1zM608 443h1v1h-1zM609 440h1v1h-1zM609 444h1v1h-1zM610 439h1v1h-1zM610 445h1v1h-1zM611 438h1v1h-1zM611 446h1v1h-1zM612 439h1v1h-1zM612 445h1v1h-1zM613 440h1v1h-1zM613 444h1v1h-1zM614 441h1v1h-1zM614 443h1v1h-1zM615 442h1v1h-1zM635 423h1v1h-1zM636 422h1v1h-1zM636 424h1v1h-1zM637 421h1v1h-1zM637 425h1v1h-1zM638 420h1v1h-1zM638 426h1v1h-1zM639 419h1v1h-1zM639 427h1v1h-1zM640 420h1v1h-1zM640 426h1v1h-1zM641 421h1v1h-1zM641 425h1v1h-1zM642 422h1v1h-1zM642 424h1v1h-1zM643 423h1v1h-1zM648 402h1v1h-1zM649 401h1v1h-1zM649 403h1v1h-1zM650 400h1v1h-1zM650 404h1v1h-1zM651 399h1v1h-1zM651 405h1v1h-1zM652 398h1v1h-1zM652 406h1v1h-1zM653 399h1v1h-1zM653 405h1v1h-1zM654 400h1v1h-1zM654 404h1v1h-1zM655 401h1v1h-1zM655 403h1v1h-1zM656 402h1v1h-1zM626 461h1v1h-1zM627 460h1v1h-1zM627 462h1v1h-1zM628 459h1v1h-1zM628 463h1v1h-1zM629 458h1v1h-1zM629 464h1v1h-1zM630 457h1v1h-1zM630 465h1v1h-1zM631 458h1v1h-1zM631 464h1v1h-1zM632 459h1v1h-1zM632 463h1v1h-1zM633 460h1v1h-1zM633 462h1v1h-1zM634 461h1v1h-1zM705 389h1v1h-1zM706 388h1v1h-1zM706 390h1v1h-1zM707 387h1v1h-1zM707 391h1v1h-1zM708 386h1v1h-1zM708 392h1v1h-1zM709 385h1v1h-1zM709 393h1v1h-1zM710 386h1v1h-1zM710 392h1v1h-1zM711 387h1v1h-1zM711 391h1v1h-1zM712 388h1v1h-1zM712 390h1v1h-1zM713 389h1v1h-1zM716 416h1v1h-1zM717 415h1v1h-1zM717 417h1v1h-1zM718 414h1v1h-1zM718 418h1v1h-1zM719 413h1v1h-1zM719 419h1v1h-1zM720 412h1v1h-1zM720 420h1v1h-1zM721 413h1v1h-1zM721 419h1v1h-1zM722 414h1v1h-1zM722 418h1v1h-1zM723 415h1v1h-1zM723 417h1v1h-1zM724 416h1v1h-1zM731 427h1v1h-1zM732 426h1v1h-1zM732 428h1v1h-1zM733 425h1v1h-1zM733 429h1v1h-1zM734 424h1v1h-1zM734 430h1v1h-1zM735 423h1v1h-1zM735 431h1v1h-1zM736 424h1v1h-1zM736 430h1v1h-1zM737 425h1v1h-1zM737 429h1v1h-1zM738 426h1v1h-1zM738 428h1v1h-1zM739 427h1v1h-1zM735 424h1v1h-1zM736 423h1v1h-1zM736 425h1v1h-1zM737 422h1v1h-1zM737 426h1v1h-1zM738 421h1v1h-1zM738 427h1v1h-1zM739 420h1v1h-1zM739 428h1v1h-1zM740 421h1v1h-1zM740 427h1v1h-1zM741 422h1v1h-1zM741 426h1v1h-1zM742 423h1v1h-1zM742 425h1v1h-1zM743 424h1v1h-1zM724 492h1v1h-1zM725 491h1v1h-1zM725 493h1v1h-1zM726 490h1v1h-1zM726 494h1v1h-1zM727 489h1v1h-1zM727 495h1v1h-1zM728 488h1v1h-1zM728 496h1v1h-1zM729 489h1v1h-1zM729 495h1v1h-1zM730 490h1v1h-1zM730 494h1v1h-1zM731 491h1v1h-1zM731 493h1v1h-1zM732 492h1v1h-1zM793 441h1v1h-1zM794 440h1v1h-1zM794 442h1v1h-1zM795 439h1v1h-1zM795 443h1v1h-1zM796 438h1v1h-1zM796 444h1v1h-1zM797 437h1v1h-1zM797 445h1v1h-1zM798 438h1v1h-1zM798 444h1v1h-1zM799 439h1v1h-1zM799 443h1v1h-1zM800 440h1v1h-1zM800 442h1v1h-1zM801 441h1v1h-1z"/>
<path fill="#00f" d="M228 146h1v1h-1zM229 145h1v1h-1zM229 147h1v1h-1zM230 144h1v1h-1zM230 148h1v1h-1zM231 145h1v1h-1zM231 147h1v1h-1zM232 146h1v1h-1zM258 201h1v1h-1zM259 200h1v1h-1zM259 202h1v1h-1zM260 199h1v1h-1zM260 203h1v1h-1zM261 200h1v1h-1zM261 202h1v1h-1zM262 201h1v1h-1zM572 126h1v1h-1zM573 125h1v1h-1zM573 127h1v1h-1zM574 124h1v1h-1zM574 128h1v1h-1zM575 125h1v1h-1zM575 127h1v1h-1zM576 126h1v1h-1zM501 279h1v1h-1zM502 278h1v1h-1zM502 280h1v1h-1zM503 277h1v1h-1zM503 281h1v1h-1zM504 278h1v1h-1zM504 280h1v1h-1zM505 279h1v1h-1zM450 316h1v1h-1zM451 315h1v1h-1zM451 317h1v1h-1zM452 314h1v1h-1zM452 318h1v1h-1zM453 315h1v1h-1zM453 317h1v1h-1zM454 316h1v1h-1zM472 447h1v1h-1zM473 446h1v1h-1zM473 448h1v1h-1zM474 445h1v1h-1zM474 449h1v1h-1zM475 446h1v1h-1zM475 448h1v1h-1zM476 447h1v1h-1zM472 466h1v1h-1zM473 465h1v1h-1zM473 467h1v1h-1zM474 464h1v1h-1zM474 468h1v1h-1zM475 465h1v1h-1zM475 467h1v1h-1zM476 466h1v1h-1zM506 466h1v1h-1zM507 465h1v1h-1zM507 467h1v1h-1zM508 464h1v1h-1zM508 468h1v1h-1zM509 465h1v1h-1zM509 467h1v1h-1zM510 466h1v1h-1zM587 428h1v1h-1zM588 427h1v1h-1zM588 429h1v1h-1zM589 426h1v1h-1zM589 430h1v1h-1zM590 427h1v1h-1zM590 429h1v1h-1zM591 428h1v1h-1zM609 442h1v1h-1zM610 441h1v1h-1zM610 443h1v1h-1zM611 440h1v1h-1zM611 444h1v1h-1zM612 441h1v1h-1zM612 443h1v1h-1zM613 442h1v1h-1zM637 423h1v1h-1zM638 422h1v1h-1zM638 424h1v1h-1zM639 421h1v1h-1zM639 425h1v1h-1zM640 422h1v1h-1zM640 424h1v1h-1zM641 423h1v1h-1zM650 402h1v1h-1zM651 401h1v1h-1zM651 403h1v1h-1zM652 400h1v1h-1zM652 404h1v1h-1zM653 401h1v1h-1zM653 403h1v1h-1zM654 402h1v1h-1zM628 461h1v1h-1zM629 460h1v1h-1zM629 462h1v1h-1zM630 459h1v1h-1zM630 463h1v1h-1zM631 460h1v1h-1zM631 462h1v1h-1zM632 461h1v1h-1zM707 389h1v1h-1zM708 388h1v1h-1zM708 390h1v1h-1zM709 387h1v1h-1zM709 391h1v1h-1zM710 388h1v1h-1zM710 390h1v1h-1zM711 389h1v1h-1zM718 416h1v1h-1zM719 415h1v1h-1zM719 417h1v1h-1zM720 414h1v1h-1zM720 418h1v1h-1zM721 415h1v1h-1zM721 417h1v1h-1zM722 416h1v1h-1zM733 427h1v1h-1zM734 426h1v1h-1zM734 428h1v1h-1zM735 425h1v1h-1zM735 429h1v1h-1zM736 426h1v1h-1zM736 428h1v1h-1zM737 427h1v1h-1zM737 424h1v1h-1zM738 423h1v1h-1zM738 425h1v1h-1zM739 422h1v1h-1zM739 426h1v1h-1zM740 423h1v1h-1zM740 425h1v1h-1zM741 424h1v1h-1zM726 492h1v1h-1zM727 491h1v1h-1zM727 493h1v1h-1zM728 490h1v1h-1zM728 494h1v1h-1zM729 491h1v1h-1zM729 493h1v1h-1zM730 492h1v1h-1zM795 441h1v1h-1zM796 440h1v1h-1zM796 442h1v1h-1zM797 439h1v1h-1zM797 443h1v1h-1zM798 440h1v1h-1zM798 442h1v1h-1zM799 441h1v1h-1z"/>
<rect x="123" y="689" width="750" height="31" fill="#f0f0f0"/>
<rect x="114" y="682" width="752" height="33" fill="#fff"/>
<rect x="115.5" y="683.5" width="47.11" height="30" fill="#ffffff"/>
<rect x="162.31" y="683.5" width="47.11" height="30" fill="#eeeeff"/>
<rect x="209.12" y="683.5" width="47.11" height="30" fill="#ddddff"/>
<rect x="255.94" y="683.5" width="47.11" height="30" fill="#ccccff"/>
<rect x="302.75" y="683.5" width="47.11" height="30" fill="#bbbbff"/>
<rect x="349.56" y="683.5" width="47.11" height="30" fill="#aaaaff"/>
<rect x="396.38" y="683.5" width="47.11" height="30" fill="#9999ff"/>
<rect x="443.19" y="683.5" width="47.11" height="30" fill="#8888ff"/>
<rect x="490" y="683.5" width="47.11" height="30" fill="#7777ff"/>
<rect x="536.81" y="683.5" width="47.11" height="30" fill="#6666ff"/>
<rect x="583.62" y="683.5" width="47.11" height="30" fill="#5555ff"/>
<rect x="630.44" y="683.5" width="47.11" height="30" fill="#4444ff"/>
<rect x="677.25" y="683.5" width="47.11" height="30" fill="#3333ff"/>
<rect x="724.06" y="683.5" width="47.11" height="30" fill="#2222ff"/>
<rect x="770.88" y="683.5" width="47.11" height="30" fill="#1111ff"/>
<rect x="817.69" y="683.5" width="47.11" height="30" fill="#0000ff"/>
<rect x="115.5" y="683.5" width="749" height="30" fill="none" stroke="#000" stroke-width="1"/>
<line x1="115.5" y1="683" x2="115.5" y2="718" stroke="#000" stroke-width="1"/>
<line x1="302.5" y1="683" x2="302.5" y2="718" stroke="#000" stroke-width="1"/>
<line x1="490.5" y1="683" x2="490.5" y2="718" stroke="#000" stroke-width="1"/>
<line x1="677.5" y1="683" x2="677.5" y2="718" stroke="#000" stroke-width="1"/>
<line x1="864.5" y1="683" x2="864.5" y2="718" stroke="#000" stroke-width="1"/>
<path fill="none" stroke="#000" stroke-width="1" stroke-linecap="square" d="M297.83 58.5L302.04 69.5M306.26 58.5L302.04 69.5M308.37 58.5L308.89 59.02L309.42 58.5L308.89 57.97L308.37 58.5M308.89 62.16L308.89 69.5M318.91 63.74L317.85 62.69L316.8 62.16L315.22 62.16L314.16 62.69L313.11 63.74L312.58 65.31L312.58 66.36L313.11 67.93L314.16 68.98L315.22 69.5L316.8 69.5L317.85 68.98L318.91 67.93M323.12 58.5L323.12 67.4L323.65 68.98L324.7 69.5L325.76 69.5M321.01 62.16L324.7 62.16M331.03 62.16L329.97 62.69L328.92 63.74L328.39 65.31L328.39 66.36L328.92 67.93L329.97 68.98L331.03 69.5L332.61 69.5L333.66 68.98L334.72 67.93L335.24 66.36L335.24 65.31L334.72 63.74L333.66 62.69L332.61 62.16L331.03 62.16M338.93 62.16L338.93 69.5M338.93 65.31L339.46 63.74L340.51 62.69L341.57 62.16L343.15 62.16M345.26 58.5L345.78 59.02L346.31 58.5L345.78 57.97L345.26 58.5M345.78 62.16L345.78 69.5M355.8 62.16L355.8 69.5M355.8 63.74L354.74 62.69L353.69 62.16L352.11 62.16L351.05 62.69L350 63.74L349.47 65.31L349.47 66.36L350 67.93L351.05 68.98L352.11 69.5L353.69 69.5L354.74 68.98L355.8 67.93M358.96 58.5L361.59 69.5M364.23 58.5L361.59 69.5M364.23 58.5L366.86 69.5M369.5 58.5L366.86 69.5M372.13 65.31L378.46 65.31L378.46 64.26L377.93 63.21L377.4 62.69L376.35 62.16L374.77 62.16L373.71 62.69L372.66 63.74L372.13 65.31L372.13 66.36L372.66 67.93L373.71 68.98L374.77 69.5L376.35 69.5L377.4 68.98L378.46 67.93M387.94 62.16L387.94 69.5M387.94 63.74L386.89 62.69L385.84 62.16L384.25 62.16L383.2 62.69L382.15 63.74L381.62 65.31L381.62 66.36L382.15 67.93L383.2 68.98L384.25 69.5L385.84 69.5L386.89 68.98L387.94 67.93M392.69 58.5L392.69 67.4L393.21 68.98L394.27 69.5L395.32 69.5M390.58 62.16L394.27 62.16M398.48 58.5L398.48 69.5M398.48 64.26L400.06 62.69L401.12 62.16L402.7 62.16L403.75 62.69L404.28 64.26L404.28 69.5M407.97 65.31L414.29 65.31L414.29 64.26L413.77 63.21L413.24 62.69L412.19 62.16L410.6 62.16L409.55 62.69L408.5 63.74L407.97 65.31L407.97 66.36L408.5 67.93L409.55 68.98L410.6 69.5L412.19 69.5L413.24 68.98L414.29 67.93M417.98 62.16L417.98 69.5M417.98 65.31L418.51 63.74L419.56 62.69L420.62 62.16L422.2 62.16M425.36 68.45L424.83 68.98L425.36 69.5L425.89 68.98L425.36 68.45M435.9 63.74L434.85 62.69L433.79 62.16L432.21 62.16L431.16 62.69L430.1 63.74L429.58 65.31L429.58 66.36L430.1 67.93L431.16 68.98L432.21 69.5L433.79 69.5L434.85 68.98L435.9 67.93M445.39 62.16L445.39 69.5M445.39 63.74L444.33 62.69L443.28 62.16L441.7 62.16L440.64 62.69L439.59 63.74L439.06 65.31L439.06 66.36L439.59 67.93L440.64 68.98L441.7 69.5L443.28 69.5L444.33 68.98L445.39 67.93M458.03 64.78L467.52 64.78M471.74 64.78L481.22 64.78M495.98 58.5L495.98 69.5M492.29 58.5L499.67 58.5M501.78 65.31L508.1 65.31L508.1 64.26L507.57 63.21L507.05 62.69L505.99 62.16L504.41 62.16L503.36 62.69L502.3 63.74L501.78 65.31L501.78 66.36L502.3 67.93L503.36 68.98L504.41 69.5L505.99 69.5L507.05 68.98L508.1 67.93M512.32 62.16L512.32 69.5M512.32 64.26L513.9 62.69L514.95 62.16L516.53 62.16L517.59 62.69L518.11 64.26L518.11 69.5M518.11 64.26L519.69 62.69L520.75 62.16L522.33 62.16L523.38 62.69L523.91 64.26L523.91 69.5M527.07 62.16L527.07 73.17M527.07 63.74L528.13 62.69L529.18 62.16L530.76 62.16L531.81 62.69L532.87 63.74L533.4 65.31L533.4 66.36L532.87 67.93L531.81 68.98L530.76 69.5L529.18 69.5L528.13 68.98L527.07 67.93M536.56 65.31L542.88 65.31L542.88 64.26L542.36 63.21L541.83 62.69L540.77 62.16L539.19 62.16L538.14 62.69L537.08 63.74L536.56 65.31L536.56 66.36L537.08 67.93L538.14 68.98L539.19 69.5L540.77 69.5L541.83 68.98L542.88 67.93M546.57 62.16L546.57 69.5M546.57 65.31L547.1 63.74L548.15 62.69L549.21 62.16L550.79 62.16M559.22 62.16L559.22 69.5M559.22 63.74L558.16 62.69L557.11 62.16L555.53 62.16L554.48 62.69L553.42 63.74L552.89 65.31L552.89 66.36L553.42 67.93L554.48 68.98L555.53 69.5L557.11 69.5L558.16 68.98L559.22 67.93M563.96 58.5L563.96 67.4L564.49 68.98L565.54 69.5L566.6 69.5M561.85 62.16L565.54 62.16M569.76 62.16L569.76 67.4L570.29 68.98L571.34 69.5L572.92 69.5L573.97 68.98L575.56 67.4M575.56 62.16L575.56 69.5M579.77 62.16L579.77 69.5M579.77 65.31L580.3 63.74L581.35 62.69L582.41 62.16L583.99 62.16M586.1 65.31L592.42 65.31L592.42 64.26L591.89 63.21L591.37 62.69L590.31 62.16L588.73 62.16L587.68 62.69L586.62 63.74L586.1 65.31L586.1 66.36L586.62 67.93L587.68 68.98L588.73 69.5L590.31 69.5L591.37 68.98L592.42 67.93"/>
<path fill="none" stroke="#000" stroke-width="1" stroke-linecap="square" d="M111.14 720.99L111.82 720.66L112.84 719.67L112.84 726.6M121.34 720.66L121 720L119.98 719.67L119.3 719.67L118.28 720L117.6 720.99L117.26 722.64L117.26 724.29L117.6 725.61L118.28 726.27L119.3 726.6L119.64 726.6L120.66 726.27L121.34 725.61L121.68 724.62L121.68 724.29L121.34 723.3L120.66 722.64L119.64 722.31L119.3 722.31L118.28 722.64L117.6 723.3L117.26 724.29"/>
<path fill="none" stroke="#000" stroke-width="1" stroke-linecap="square" d="M298.14 720.99L298.82 720.66L299.84 719.67L299.84 726.6M305.62 719.67L304.6 720L304.26 720.66L304.26 721.32L304.6 721.98L305.28 722.31L306.64 722.64L307.66 722.97L308.34 723.63L308.68 724.29L308.68 725.28L308.34 725.94L308 726.27L306.98 726.6L305.62 726.6L304.6 726.27L304.26 725.94L303.92 725.28L303.92 724.29L304.26 723.63L304.94 722.97L305.96 722.64L307.32 722.31L308 721.98L308.34 721.32L308.34 720.66L308 720L306.98 719.67L305.62 719.67"/>
<path fill="none" stroke="#000" stroke-width="1" stroke-linecap="square" d="M485.46 721.32L485.46 720.99L485.8 720.33L486.14 720L486.82 719.67L488.18 719.67L488.86 720L489.2 720.33L489.54 720.99L489.54 721.65L489.2 722.31L488.52 723.3L485.12 726.6L489.88 726.6M493.96 719.67L492.94 720L492.26 720.99L491.92 722.64L491.92 723.63L492.26 725.28L492.94 726.27L493.96 726.6L494.64 726.6L495.66 726.27L496.34 725.28L496.68 723.63L496.68 722.64L496.34 720.99L495.66 720L494.64 719.67L493.96 719.67"/>
<path fill="none" stroke="#000" stroke-width="1" stroke-linecap="square" d="M672.46 721.32L672.46 720.99L672.8 720.33L673.14 720L673.82 719.67L675.18 719.67L675.86 720L676.2 720.33L676.54 720.99L676.54 721.65L676.2 722.31L675.52 723.3L672.12 726.6L676.88 726.6M679.26 721.32L679.26 720.99L679.6 720.33L679.94 720L680.62 719.67L681.98 719.67L682.66 720L683 720.33L683.34 720.99L683.34 721.65L683 722.31L682.32 723.3L678.92 726.6L683.68 726.6"/>
<path fill="none" stroke="#000" stroke-width="1" stroke-linecap="square" d="M859.46 721.32L859.46 720.99L859.8 720.33L860.14 720L860.82 719.67L862.18 719.67L862.86 720L863.2 720.33L863.54 720.99L863.54 721.65L863.2 722.31L862.52 723.3L859.12 726.6L863.88 726.6M869.32 719.67L865.92 724.29L871.02 724.29M869.32 719.67L869.32 726.6"/>
<path fill="none" stroke="#000" stroke-width="1" stroke-linecap="square" d="M436.26 732.24L435.91 731.57L435.23 730.9L434.55 730.57L433.18 730.57L432.49 730.9L431.81 731.57L431.47 732.24L431.13 733.25L431.13 734.92L431.47 735.93L431.81 736.6L432.49 737.26L433.18 737.6L434.55 737.6L435.23 737.26L435.91 736.6L436.26 735.93M449.59 732.24L449.59 731.9L449.94 731.24L450.28 730.9L450.96 730.57L452.33 730.57L453.01 730.9L453.36 731.24L453.7 731.9L453.7 732.58L453.36 733.25L452.67 734.25L449.25 737.6L454.04 737.6M458.14 730.57L457.12 730.9L456.43 731.9L456.09 733.58L456.09 734.59L456.43 736.26L457.12 737.26L458.14 737.6L458.83 737.6L459.85 737.26L460.54 736.26L460.88 734.59L460.88 733.58L460.54 731.9L459.85 730.9L458.83 730.57L458.14 730.57M463.27 732.24L463.27 731.9L463.62 731.24L463.96 730.9L464.64 730.57L466.01 730.57L466.69 730.9L467.04 731.24L467.38 731.9L467.38 732.58L467.04 733.25L466.35 734.25L462.93 737.6L467.72 737.6M474.22 731.57L473.88 730.9L472.85 730.57L472.17 730.57L471.14 730.9L470.46 731.9L470.11 733.58L470.11 735.25L470.46 736.6L471.14 737.26L472.17 737.6L472.51 737.6L473.53 737.26L474.22 736.6L474.56 735.59L474.56 735.25L474.22 734.25L473.53 733.58L472.51 733.25L472.17 733.25L471.14 733.58L470.46 734.25L470.11 735.25M482.43 729.23L476.27 739.95M486.19 730.57L485.16 730.9L484.48 731.9L484.14 733.58L484.14 734.59L484.48 736.26L485.16 737.26L486.19 737.6L486.87 737.6L487.9 737.26L488.58 736.26L488.92 734.59L488.92 733.58L488.58 731.9L487.9 730.9L486.87 730.57L486.19 730.57M494.4 730.57L490.98 735.25L496.11 735.25M494.4 730.57L494.4 737.6M503.63 729.23L497.47 739.95M506.37 731.9L507.05 731.57L508.08 730.57L508.08 737.6M516.63 732.91L516.28 733.92L515.6 734.59L514.57 734.92L514.23 734.92L513.21 734.59L512.52 733.92L512.18 732.91L512.18 732.58L512.52 731.57L513.21 730.9L514.23 730.57L514.57 730.57L515.6 730.9L516.28 731.57L516.63 732.91L516.63 734.59L516.28 736.26L515.6 737.26L514.57 737.6L513.89 737.6L512.86 737.26L512.52 736.6M525.52 731.9L526.2 731.57L527.23 730.57L527.23 737.6M535.78 731.57L535.44 730.9L534.41 730.57L533.73 730.57L532.7 730.9L532.02 731.9L531.67 733.58L531.67 735.25L532.02 736.6L532.7 737.26L533.73 737.6L534.07 737.6L535.09 737.26L535.78 736.6L536.12 735.59L536.12 735.25L535.78 734.25L535.09 733.58L534.07 733.25L533.73 733.25L532.7 733.58L532.02 734.25L531.67 735.25M538.86 732.91L538.51 733.25L538.86 733.58L539.2 733.25L538.86 732.91M538.86 736.93L538.51 737.26L538.86 737.6L539.2 737.26L538.86 736.93M545.7 730.57L542.28 730.57L541.93 733.58L542.28 733.25L543.3 732.91L544.33 732.91L545.35 733.25L546.04 733.92L546.38 734.92L546.38 735.59L546.04 736.6L545.35 737.26L544.33 737.6L543.3 737.6L542.28 737.26L541.93 736.93L541.59 736.26M550.14 730.57L549.12 730.9L548.77 731.57L548.77 732.24L549.12 732.91L549.8 733.25L551.17 733.58L552.19 733.92L552.88 734.59L553.22 735.25L553.22 736.26L552.88 736.93L552.54 737.26L551.51 737.6L550.14 737.6L549.12 737.26L548.77 736.93L548.43 736.26L548.43 735.25L548.77 734.59L549.46 733.92L550.48 733.58L551.85 733.25L552.54 732.91L552.88 732.24L552.88 731.57L552.54 730.9L551.51 730.57L550.14 730.57"/>
<path fill="none" stroke="#000" stroke-width="1" d="M428.5 730.5h1l1 1v1l-1 1h-1l-1-1v-1z"/>
</g>
</svg></body></html>
